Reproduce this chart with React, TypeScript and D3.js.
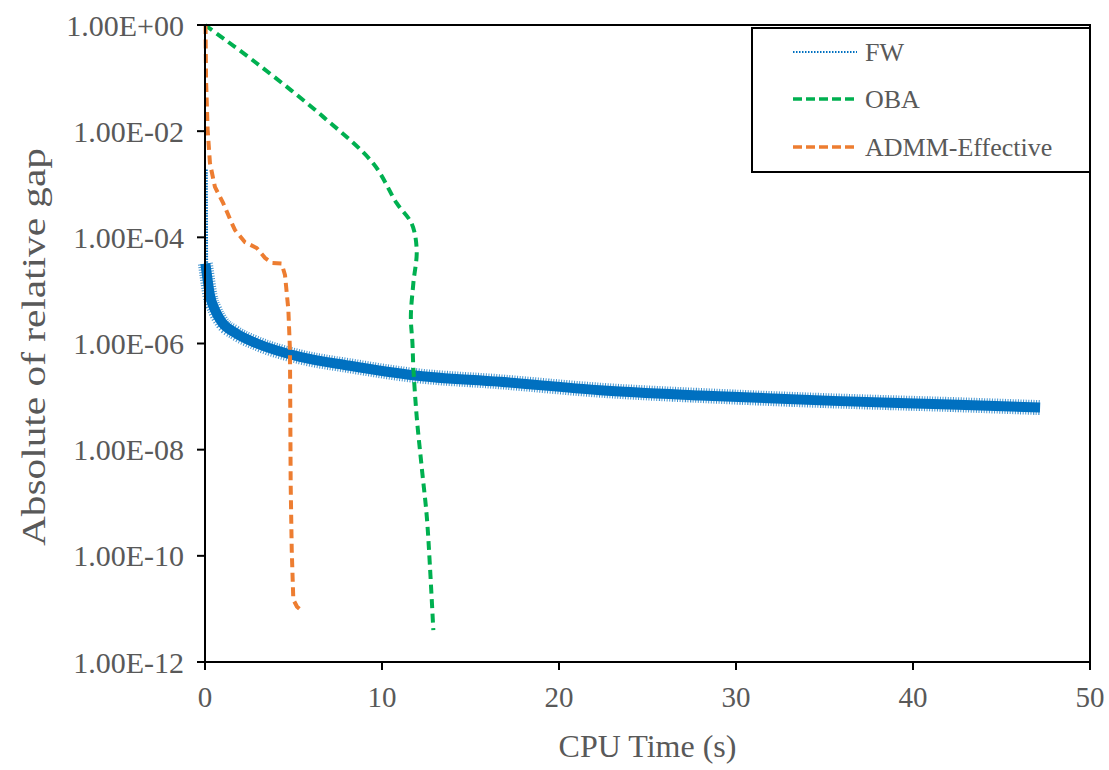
import React from "react";
import * as d3 from "d3";

// ---- data ----
const xTicks = [0, 10, 20, 30, 40, 50];
const yTicks = [1e0, 1e-2, 1e-4, 1e-6, 1e-8, 1e-10, 1e-12];
const yTickLabels = ["1.00E+00", "1.00E-02", "1.00E-04", "1.00E-06", "1.00E-08", "1.00E-10", "1.00E-12"];

const fwTime = [0, 0.02, 0.11, 0.28, 0.56, 0.96, 1.69, 2.94, 5.37, 8.19, 11.86, 16.67, 22.32, 27.97, 35.48, 42.09, 47.18];
const fwGap = [1.9e-3, 3.2e-5, 1.95e-5, 8.1e-6, 4.3e-6, 2.5e-6, 1.6e-6, 1.0e-6, 5.6e-7, 3.8e-7, 2.5e-7, 1.9e-7, 1.32e-7, 1.05e-7, 8.3e-8, 7.1e-8, 6.2e-8];

const obaTime = [0, 2.92, 6.68, 9.51, 10.83, 11.68, 11.96, 11.77, 11.63, 11.72, 11.77, 11.96, 12.24, 12.53, 12.71, 12.9];
const obaGap = [1, 0.19, 0.0186, 2.45e-3, 4.4e-4, 1.8e-4, 5.75e-5, 1.35e-5, 3.2e-6, 1.02e-6, 3.6e-7, 4.2e-8, 4.8e-9, 5.5e-10, 6.2e-11, 4.0e-12];

const admmTime = [0.03, 0.06, 0.15, 0.28, 0.56, 1.03, 1.51, 1.69, 2.26, 2.92, 3.39, 3.77, 4.33, 4.52, 4.71, 4.8, 4.84, 4.9, 4.99, 5.2, 5.55];
const admmGap = [1, 9.1e-2, 1.05e-2, 2.5e-3, 8.9e-4, 4.4e-4, 1.86e-4, 1.38e-4, 8.1e-5, 6.3e-5, 4.1e-5, 3.3e-5, 3.2e-5, 1.95e-5, 4.3e-6, 7.6e-7, 2.3e-9, 1.3e-10, 1.5e-11, 1.1e-11, 8.7e-12];

const seriesNames = ["FW", "OBA", "ADMM-Effective"];

// ---- style ----
const W = 1109, H = 770;
const L = 205, R = 1090, T = 25, B = 662;
const FONT = "'Liberation Serif', 'Times New Roman', serif";
const TXT = "#595959";
const BLUE = "#0070C0", GREEN = "#00B050", ORANGE = "#ED7D31";

export default function App() {
  const x = d3.scaleLinear().domain([0, 50]).range([L, R]);
  const y = d3.scaleLog().domain([1e-12, 1]).range([B, T]);

  const pts = (ts: number[], vs: number[]) => ts.map((t, i) => [t, vs[i]] as [number, number]);
  const lineLin = d3.line<[number, number]>().x(d => x(d[0])).y(d => y(d[1]));
  const lineSmooth = d3.line<[number, number]>().x(d => x(d[0])).y(d => y(d[1])).curve(d3.curveCatmullRom.alpha(0.5));
  const lineMono = d3.line<[number, number]>().x(d => x(d[0])).y(d => y(d[1])).curve(d3.curveMonotoneX);

  const fw = pts(fwTime, fwGap);
  const fwThin = lineLin(fw.slice(0, 3)) || "";
  const fwBand = lineMono(fw.slice(1)) || "";
  const oba = lineSmooth(pts(obaTime, obaGap)) || "";
  const admm = lineLin(pts(admmTime, admmGap)) || "";

  const legendY = [52, 99, 147];
  const legendColors = [BLUE, GREEN, ORANGE];

  return (
    <svg width={W} height={H} style={{ position: "absolute", left: 0, top: 0, background: "#fff" }}>
      <rect x={0} y={0} width={W} height={H} fill="#fff" />
      {/* series */}
      <path d={fwThin} fill="none" stroke={BLUE} strokeWidth={2.5} strokeDasharray="1.5 1.2" transform="translate(1.5,0)" />
      <path d={fwBand} fill="none" stroke={BLUE} strokeWidth={15} strokeDasharray="1 1.6" strokeOpacity={0.75} strokeLinejoin="round" />
      <path d={fwBand} fill="none" stroke={BLUE} strokeWidth={10} strokeLinejoin="round" />
      <path d={oba} fill="none" stroke={GREEN} strokeWidth={4} strokeDasharray="9 5.5" />
      <path d={admm} fill="none" stroke={ORANGE} strokeWidth={4} strokeDasharray="9 5.5" strokeLinejoin="round" />

      {/* frame */}
      <rect x={L} y={T} width={R - L} height={B - T} fill="none" stroke="#000" strokeWidth={2} />
      {/* y ticks */}
      {yTicks.map((v, i) => (
        <g key={"y" + i}>
          <line x1={L - 8} x2={L} y1={y(v)} y2={y(v)} stroke="#000" strokeWidth={2} />
          <text x={184} y={y(v)} dy="0.35em" textAnchor="end" fontFamily={FONT} fontSize={30} fill={TXT}>
            {yTickLabels[i]}
          </text>
        </g>
      ))}
      {/* x ticks */}
      {xTicks.map((v, i) => (
        <g key={"x" + i}>
          <line x1={x(v)} x2={x(v)} y1={B} y2={B + 8} stroke="#000" strokeWidth={2} />
          <text x={x(v)} y={697} dy="0.35em" textAnchor="middle" fontFamily={FONT} fontSize={29} fill={TXT}>
            {v}
          </text>
        </g>
      ))}
      <text x={(L + R) / 2} y={746} dy="0.35em" textAnchor="middle" fontFamily={FONT} fontSize={32} fill={TXT}>
        CPU Time (s)
      </text>
      <text transform={`translate(33, 347) rotate(-90)`} dy="0.35em" textAnchor="middle" fontFamily={FONT} fontSize={34}
        textLength={398} lengthAdjust="spacingAndGlyphs" fill={TXT}>
        Absolute of relative gap
      </text>

      {/* legend */}
      <rect x={752} y={28} width={R - 752} height={144} fill="#fff" stroke="#000" strokeWidth={2} />
      {seriesNames.map((n, i) => (
        <g key={n}>
          <line x1={793} x2={857} y1={legendY[i]} y2={legendY[i]} stroke={legendColors[i]}
            strokeWidth={i === 0 ? 2 : 3.5} strokeDasharray={i === 0 ? "1.5 1.5" : "9 4"} />
          <text x={865} y={legendY[i]} dy="0.35em" fontFamily={FONT} fontSize={26} fill={TXT}>{n}</text>
        </g>
      ))}
    </svg>
  );
}
